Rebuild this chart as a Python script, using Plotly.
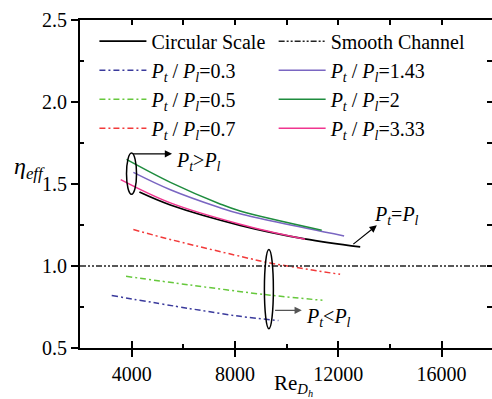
import plotly.graph_objects as go

# ---------------- data ----------------
circ_x = [4300, 5500, 8200, 10700, 12850]
circ_y = [1.451, 1.372, 1.248, 1.165, 1.116]

smooth_x = [2000, 18000]
smooth_y = [1.0, 1.0]

r03_x = [3228, 6262, 8198, 9683]
r03_y = [0.820, 0.740, 0.693, 0.667]

r05_x = [3782, 6262, 9361, 11387]
r05_y = [0.937, 0.884, 0.822, 0.791]

r07_x = [4066, 5614, 8586, 9361, 12072]
r07_y = [1.222, 1.157, 1.045, 1.018, 0.949]

r143_x = [4066, 5500, 7424, 8198, 12227]
r143_y = [1.571, 1.465, 1.355, 1.318, 1.183]

r2_x = [3800, 5500, 7400, 8200, 11360]
r2_y = [1.650, 1.510, 1.380, 1.335, 1.218]

r333_x = [3576, 5500, 8200, 10717]
r333_y = [1.527, 1.385, 1.255, 1.163]

x_ticks = [4000, 8000, 12000, 16000]
x_ticktext = ["4000", "8000", "12000", "16000"]
y_ticks = [0.5, 1.0, 1.5, 2.0, 2.5]
y_ticktext = ["0.5", "1.0", "1.5", "2.0", "2.5"]

FONT = "Liberation Serif, Times New Roman, DejaVu Serif, serif"
DD = "6px,3px,2px,3px"
DDD = "6px,2px,2px,2px,2px,2px"


def ratio_label(v):
    return "<i>P</i><sub><i>t</i></sub> / <i>P</i><sub><i>l</i></sub>=" + v


fig = go.Figure()

# column 1 legend
fig.add_trace(go.Scatter(x=circ_x, y=circ_y, mode="lines", name="Circular Scale",
                         line=dict(color="black", width=1.8, shape="spline"), legend="legend"))
fig.add_trace(go.Scatter(x=r03_x, y=r03_y, mode="lines", name=ratio_label("0.3"),
                         line=dict(color="#3a3a9c", width=1.5, dash=DD, shape="spline"), legend="legend"))
fig.add_trace(go.Scatter(x=r05_x, y=r05_y, mode="lines", name=ratio_label("0.5"),
                         line=dict(color="#66c83c", width=1.5, dash=DD, shape="spline"), legend="legend"))
fig.add_trace(go.Scatter(x=r07_x, y=r07_y, mode="lines", name=ratio_label("0.7"),
                         line=dict(color="#f23a3a", width=1.5, dash=DD, shape="spline"), legend="legend"))
# column 2 legend
fig.add_trace(go.Scatter(x=smooth_x, y=smooth_y, mode="lines", name="Smooth Channel",
                         line=dict(color="#222222", width=1.5, dash=DDD), legend="legend2"))
fig.add_trace(go.Scatter(x=r143_x, y=r143_y, mode="lines", name=ratio_label("1.43"),
                         line=dict(color="#7a66c2", width=1.5, shape="spline"), legend="legend2"))
fig.add_trace(go.Scatter(x=r2_x, y=r2_y, mode="lines", name=ratio_label("2"),
                         line=dict(color="#1e8c3e", width=1.5, shape="spline"), legend="legend2"))
fig.add_trace(go.Scatter(x=r333_x, y=r333_y, mode="lines", name=ratio_label("3.33"),
                         line=dict(color="#f0358f", width=1.5, shape="spline"), legend="legend2"))

# dummy traces to activate overlay axes (for crossing / mirrored inside ticks)
fig.add_trace(go.Scatter(x=[None], y=[None], xaxis="x2", yaxis="y2", showlegend=False, hoverinfo="skip"))
fig.add_trace(go.Scatter(x=[None], y=[None], xaxis="x3", yaxis="y2", showlegend=False, hoverinfo="skip"))

XR = [2000, 17953]
YR = [0.5, 2.5]
tickfont = dict(family=FONT, size=20, color="black")
legfont = dict(family=FONT, size=20, color="black")

fig.update_layout(
    width=492, height=399,
    margin=dict(l=80, r=0, t=20, b=51),
    paper_bgcolor="white", plot_bgcolor="white",
    font=dict(family=FONT, color="black"),
    xaxis=dict(range=XR, tickvals=x_ticks, ticktext=x_ticktext, ticks="outside", ticklen=7,
               tickwidth=1.5, tickcolor="black", showline=True, linecolor="black",
               linewidth=1.8, showgrid=False, zeroline=False, tickfont=tickfont,
               minor=dict(ticks="inside", ticklen=4, tickwidth=1.5, tickcolor="black",
                          tickvals=[6000, 10000, 14000], showgrid=False)),
    xaxis2=dict(range=XR, overlaying="x", anchor="y", side="bottom", tickvals=x_ticks,
                ticks="inside", ticklen=7, tickwidth=1.5, tickcolor="black",
                showticklabels=False, showline=False, showgrid=False, zeroline=False),
    xaxis3=dict(range=XR, overlaying="x", anchor="y", side="top",
                tickvals=[4000, 6000, 8000, 10000, 12000, 14000, 16000],
                ticks="inside", ticklen=5, tickwidth=1.5, tickcolor="black",
                showticklabels=False, showline=True, linecolor="black", linewidth=1.8,
                showgrid=False, zeroline=False),
    yaxis=dict(range=YR, tickvals=y_ticks, ticktext=y_ticktext,
               ticks="outside", ticklen=7, tickwidth=1.5, tickcolor="black",
               showline=True, linecolor="black", linewidth=1.8, showgrid=False,
               zeroline=False, tickfont=tickfont,
               minor=dict(ticks="inside", ticklen=4, tickwidth=1.5, tickcolor="black",
                          tickvals=[0.75, 1.25, 1.75, 2.25], showgrid=False)),
    yaxis2=dict(range=YR, overlaying="y", anchor="x", side="right",
                tickvals=[0.75, 1.0, 1.25, 1.5, 1.75, 2.0, 2.25],
                ticks="inside", ticklen=5, tickwidth=1.5, tickcolor="black",
                showticklabels=False, showline=False, showgrid=False, zeroline=False),
    legend=dict(x=0.035, y=0.995, xanchor="left", yanchor="top", font=legfont,
                bgcolor="rgba(0,0,0,0)", itemwidth=47, tracegroupgap=0),
    legend2=dict(x=0.47, y=0.995, xanchor="left", yanchor="top", font=legfont,
                 bgcolor="rgba(0,0,0,0)", itemwidth=47, tracegroupgap=0),
    showlegend=True,
)

# ellipses
fig.add_shape(type="circle", xref="x", yref="y", x0=3801, x1=4189, y0=1.437, y1=1.689,
              line=dict(color="black", width=1.5))
fig.add_shape(type="circle", xref="x", yref="y", x0=9140, x1=9488, y0=0.618, y1=1.100,
              line=dict(color="black", width=1.5))

# arrows
arrow = dict(showarrow=True, arrowhead=2, arrowsize=1.2, arrowwidth=1.2,
             axref="x", ayref="y", xref="x", yref="y", text="")
fig.add_annotation(x=5564, y=1.684, ax=3995, ay=1.684, arrowcolor="black", **arrow)
fig.add_annotation(x=13494, y=1.248, ax=12526, ay=1.126, arrowcolor="black", **arrow)
fig.add_annotation(x=10588, y=0.730, ax=9496, ay=0.730, arrowcolor="#555555", **arrow)

lab = dict(showarrow=False, xref="x", yref="y", xanchor="left", yanchor="middle",
           font=dict(family=FONT, size=20, color="black"))
fig.add_annotation(x=5642, y=1.638,
                   text="<i>P</i><sub><i>t</i></sub>&gt;<i>P</i><sub><i>l</i></sub>", **lab)
fig.add_annotation(x=13312, y=1.309,
                   text="<i>P</i><sub><i>t</i></sub>=<i>P</i><sub><i>l</i></sub>", **lab)
fig.add_annotation(x=10678, y=0.689,
                   text="<i>P</i><sub><i>t</i></sub>&lt;<i>P</i><sub><i>l</i></sub>", **lab)

# axis titles
fig.add_annotation(x=-0.165, y=0.549, xref="paper", yref="paper", showarrow=False,
                   xanchor="left", yanchor="middle",
                   text="<i>η</i><sub><i>eff</i></sub>",
                   font=dict(family=FONT, size=24, color="black"))
fig.add_annotation(x=0.465, y=-0.112, xref="paper", yref="paper", showarrow=False,
                   xanchor="left", yanchor="middle",
                   text="Re<sub><i>D<sub>h</sub></i></sub>",
                   font=dict(family=FONT, size=21, color="black"))

fig.write_html("out.html")
